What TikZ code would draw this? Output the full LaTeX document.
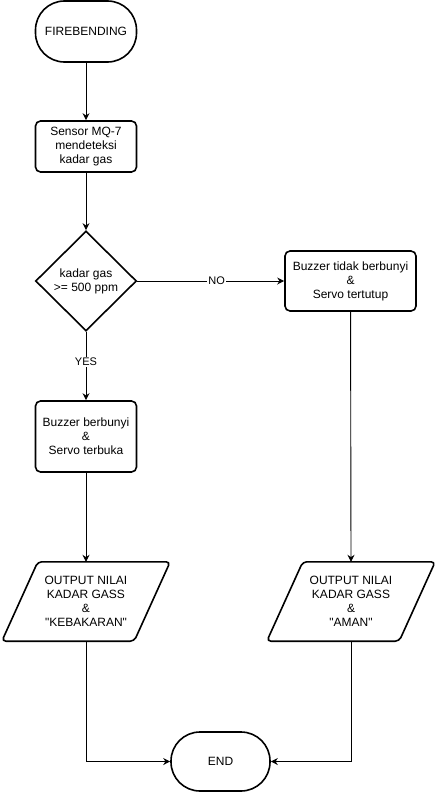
\documentclass[tikz,border=0pt]{standalone}
\usepackage{fontspec}
\setmainfont{Liberation Sans}
\newfontfamily\nf{Liberation Sans}
\usetikzlibrary{shapes.geometric,calc,arrows.meta}
\begin{document}
\begin{tikzpicture}[x=1pt,y=-1pt,
  box/.style={draw=black,line width=1.6pt,align=center,font=\nf\fontsize{12}{14}\selectfont,inner sep=0pt},
  proc/.style={box,rounded corners=5pt},
  term/.style={box,rounded corners=29pt},
  plain/.style={align=center,font=\nf\fontsize{12}{14}\selectfont,inner sep=0pt},
  conn/.style={line width=0.9pt,-{Stealth[length=7pt,width=7pt]}},
  lbl/.style={fill=white,inner sep=1pt,font=\nf\fontsize{11}{13}\selectfont}]
\useasboundingbox (0,0) rectangle (438,792);
\node[term,minimum width=101pt,minimum height=61pt] (start) at (86,31.5) {FIREBENDING};
\node[proc,minimum width=101pt,minimum height=51pt] (sensor) at (86,146.5) {Sensor MQ-7\\mendeteksi\\kadar gas};
\node[box,shape=diamond,minimum width=101pt,minimum height=100pt] (dec) at (86,281) {kadar gas\\>= 500 ppm};
\node[proc,minimum width=131pt,minimum height=60pt] (no) at (350.5,281) {Buzzer tidak berbunyi\\\&\\Servo tertutup};
\node[proc,minimum width=101pt,minimum height=71pt] (yes) at (86,436.5) {Buzzer berbunyi\\\&\\Servo terbuka};
\node[plain,minimum width=132pt,minimum height=79pt] (o1) at (86,601.5) {OUTPUT NILAI\\KADAR GASS\\\&\\"KEBAKARAN"};
\node[plain,minimum width=132pt,minimum height=79pt] (o2) at (351,601.5) {OUTPUT NILAI\\KADAR GASS\\\&\\"AMAN"};
\foreach \o in {o1,o2}{
  \draw[line width=1.6pt,rounded corners=4pt,line join=round]
    ($(\o.north west)+(18,0)$) -- ($(\o.north east)+(18,0)$) -- ($(\o.south east)-(18,0)$) -- ($(\o.south west)-(18,0)$) -- cycle;
}
\node[term,minimum width=99pt,minimum height=59pt] (end) at (220.5,761.5) {END};
\draw[conn] (start) -- (sensor);
\draw[conn] (sensor) -- (dec);
\draw[conn] (dec.east) -- node[lbl,pos=0.54]{NO} (no.west);
\draw[conn] (dec.south) -- node[lbl,pos=0.44]{YES} (yes.north);
\draw[conn] (yes) -- (o1.north);
\draw[conn] (no) -- (o2.north);
\draw[conn] (o1.south) |- (end.west);
\draw[conn] (o2.south) |- (end.east);
\end{tikzpicture}
\end{document}
